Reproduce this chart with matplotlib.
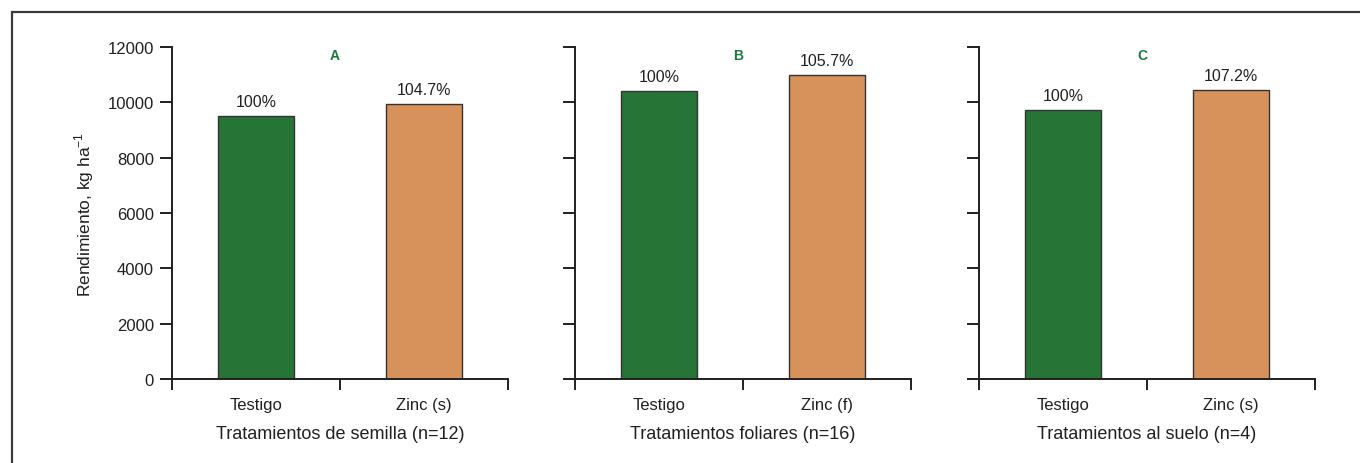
import matplotlib
matplotlib.use("Agg")
import matplotlib.pyplot as plt
from matplotlib.patches import Rectangle

plt.rcParams['font.family'] = ['Liberation Sans', 'DejaVu Sans']
plt.rcParams['mathtext.fontset'] = 'custom'
plt.rcParams['mathtext.rm'] = 'Liberation Sans'

panel_letters = ["A", "B", "C"]
categories_A = ["Testigo", "Zinc (s)"]
categories_B = ["Testigo", "Zinc (f)"]
categories_C = ["Testigo", "Zinc (s)"]
values_A = [9500, 9930]
values_B = [10400, 11000]
values_C = [9730, 10440]
pct_A = ["100%", "104.7%"]
pct_B = ["100%", "105.7%"]
pct_C = ["100%", "107.2%"]
xlabels = ["Tratamientos de semilla (n=12)", "Tratamientos foliares (n=16)", "Tratamientos al suelo (n=4)"]
yticks = [0, 2000, 4000, 6000, 8000, 10000, 12000]

bar_colors = ["#267537", "#d6925a"]
text_color = "#231f20"
letter_color = "#1a7a3e"

W, H = 1360, 464
fig = plt.figure(figsize=(W / 100, H / 100), dpi=100)

# outer frame
fig.patches.append(Rectangle((12 / W, -0.1), 1.2, 1 - 13 / H + 0.1, transform=fig.transFigure,
                             fill=False, edgecolor="#3a3a3a", linewidth=1.6, clip_on=False))

lefts = [172, 575, 979]
ax_w = 336
bottom_px, top_px = 380, 48
panels = [(categories_A, values_A, pct_A), (categories_B, values_B, pct_B), (categories_C, values_C, pct_C)]

for i, (cats, vals, pcts) in enumerate(panels):
    ax = fig.add_axes([lefts[i] / W, 1 - bottom_px / H, ax_w / W, (bottom_px - top_px) / H])
    xs = [0.5, 1.5]
    ax.bar(xs, vals, width=0.45, color=bar_colors, edgecolor="#333333", linewidth=1.0)
    for x, v, p in zip(xs, vals, pcts):
        ax.annotate(p, (x, v), xytext=(0, 5), textcoords="offset points", ha="center", va="bottom",
                    fontsize=11.5, color=text_color)
    ax.text(0.485, 0.976, panel_letters[i], transform=ax.transAxes, ha="center", va="center",
            fontsize=10, fontweight="bold", color=letter_color)
    ax.set_xlim(0, 2)
    ax.set_ylim(0, 12000)
    ax.set_xticks([0, 1, 2])
    ax.set_xticklabels([])
    ax.set_xticks(xs, minor=True)
    ax.set_xticklabels(cats, minor=True, fontsize=12, color=text_color)
    ax.tick_params(axis="x", which="minor", length=0, pad=13)
    ax.tick_params(axis="x", which="major", length=8, width=1.4, color=text_color, direction="out")
    ax.set_yticks(yticks)
    ax.tick_params(axis="y", length=9, width=1.4, color=text_color, direction="out", labelsize=12,
                   labelcolor=text_color, pad=4)
    if i > 0:
        ax.set_yticklabels([])
    else:
        ax.set_ylabel(r"Rendimiento, kg ha$^{\mathregular{-1}}$", fontsize=12.5, color=text_color, labelpad=8)
    ax.set_xlabel(xlabels[i], fontsize=13, color=text_color, labelpad=9)
    for s in ["top", "right"]:
        ax.spines[s].set_visible(False)
    for s in ["left", "bottom"]:
        ax.spines[s].set_linewidth(1.4)
        ax.spines[s].set_color(text_color)

fig.savefig("out.png", dpi=100)
